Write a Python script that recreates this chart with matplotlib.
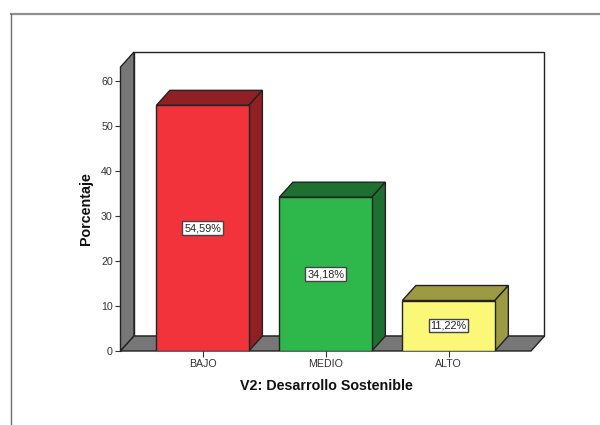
import matplotlib
matplotlib.use('Agg')
import matplotlib.pyplot as plt
from matplotlib.lines import Line2D
from matplotlib.patches import Polygon

plt.rcParams['font.family'] = ['Liberation Sans', 'DejaVu Sans']

categories = ['BAJO', 'MEDIO', 'ALTO']
values = [54.59, 34.18, 11.22]
value_labels = ['54,59%', '34,18%', '11,22%']
y_ticks = [0, 10, 20, 30, 40, 50, 60]

front_colors = ['#f2333b', '#2eb84c', '#fbf877']
dark_colors = ['#902024', '#1d7030', '#9c9a42']

W, H = 600, 425
edge = '#222222'
wall = '#777777'

fig = plt.figure(figsize=(W / 100, H / 100), dpi=100)

# axes box is the front face of the 3d frame, in pixels
left, right, bottom, top = 120.5, 531.0, 351.0, 67.0
ax = fig.add_axes([left / W, 1 - bottom / H, (right - left) / W, (bottom - top) / H])
ax.set_xlim(-0.668, 2.67)
ax.set_ylim(0, (bottom - top) / 4.5)
ax.patch.set_visible(False)

# depth of the 3d effect, in data units
dx = 13.5 / 123
dy = 15 / 4.5
x0, x1 = ax.get_xlim()
y1 = ax.get_ylim()[1]


def poly(pts, color, z, lw=1.0):
    ax.add_patch(Polygon(pts, closed=True, facecolor=color, edgecolor=edge,
                         linewidth=lw, clip_on=False, zorder=z))


# back wall, left wall and floor
poly([(x0 + dx, dy), (x1 + dx, dy), (x1 + dx, y1 + dy), (x0 + dx, y1 + dy)], 'white', 1)
poly([(x0, 0), (x0 + dx, dy), (x0 + dx, y1 + dy), (x0, y1)], wall, 2)
poly([(x0, 0), (x1, 0), (x1 + dx, dy), (x0 + dx, dy)], wall, 2)

# bars
bar_w = 92.5 / 123
for i, v in enumerate(values):
    a, b = i - bar_w / 2, i + bar_w / 2
    ax.bar(i, v, width=bar_w, color=front_colors[i], edgecolor=edge, linewidth=1.0, zorder=4)
    poly([(a, v), (b, v), (b + dx, v + dy), (a + dx, v + dy)], dark_colors[i], 3)
    poly([(b, 0), (b + dx, dy), (b + dx, v + dy), (b, v)], dark_colors[i], 3)
    ax.text(i, v / 2, value_labels[i], ha='center', va='center', fontsize=7.8,
            color='#222222', zorder=6,
            bbox=dict(boxstyle='square,pad=0.16', facecolor='white', edgecolor='#444444', linewidth=1))

ax.set_xticks(range(len(categories)))
ax.set_xticklabels(categories)
ax.set_yticks(y_ticks)
ax.tick_params(axis='both', labelsize=7.7, length=4.5, width=0.8, color='#333333',
               labelcolor='#333333', pad=1.5)
ax.tick_params(axis='y', pad=1)
for s in ax.spines.values():
    s.set_visible(False)

ax.set_xlabel('V2: Desarrollo Sostenible', fontsize=10.3, fontweight='bold', color='#111111')
ax.xaxis.set_label_coords((326 - left) / (right - left), -0.098)
ax.set_ylabel('Porcentaje', fontsize=10.3, fontweight='bold', color='#111111')
ax.yaxis.set_label_coords((93 - left) / (right - left), (bottom - 209) / (bottom - top))

# outer chart frame
fig.add_artist(Line2D([11 / W, 1], [1 - 13.5 / H] * 2, color='#909090', linewidth=1.6))
fig.add_artist(Line2D([11 / W] * 2, [0, 1 - 13.5 / H], color='#707070', linewidth=1.0))

fig.savefig('out.png', dpi=100)
